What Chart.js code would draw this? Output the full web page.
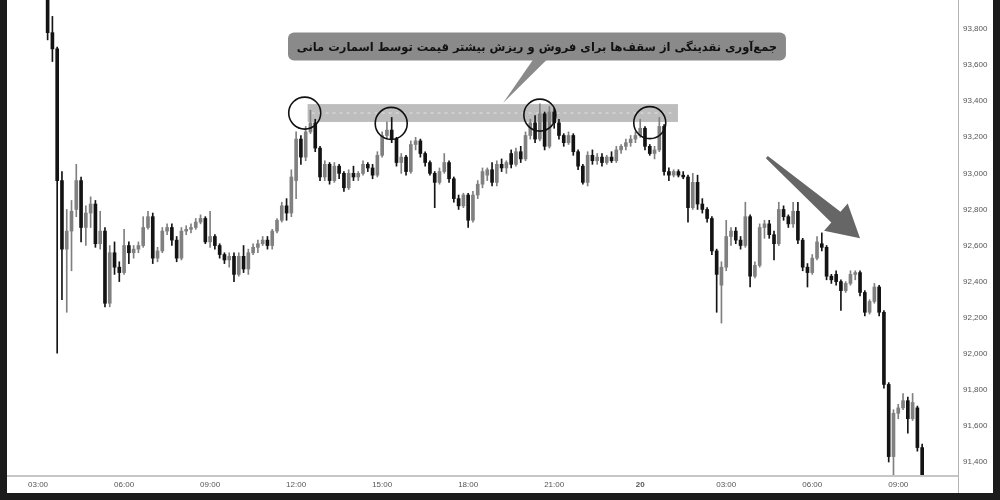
<!DOCTYPE html>
<html lang="fa">
<head>
  <meta charset="UTF-8">
  <title>Smart money liquidity</title>
  <script src="https://cdn.jsdelivr.net/npm/chart.js@4.4.1/dist/chart.umd.min.js"></script>
  <style>
    html, body { margin: 0; padding: 0; background: #1b1b1b; }
    .quadro { position: absolute; left: 7px; top: 0; width: 986px; height: 493px; background: #fff; }
  </style>
</head>
<body>
  <div class="quadro">
    <canvas id="grafico"></canvas>
  </div>

<script>
  // 10 minute candles, slot 0 = 02:00 of day 19, last slot = 11:00 of day 20
  const slotCount = 199;
  const firstCandle = 8; // first drawn candle (03:20)

  const opens = [
    94000, 93780, 93690, 92960, 92580, 92680, 92800, 92960, 92700, 92780,
    92830, 92610, 92680, 92280, 92560, 92480, 92450, 92600, 92560, 92580,
    92600, 92700, 92760, 92530, 92570, 92680, 92700, 92630, 92530, 92680,
    92690, 92700, 92730, 92750, 92620, 92650, 92600, 92550, 92520, 92540,
    92440, 92540, 92470, 92560, 92590, 92610, 92630, 92600, 92680, 92740,
    92820, 92780, 92960, 93190, 93090, 93230, 93280, 93140, 92980, 93050,
    92960, 93040, 93000, 92920, 93000, 92980, 93000, 93050, 93030, 92990,
    93100, 93210, 93240, 93190, 93060, 93090, 93010, 93160, 93180, 93110,
    93060, 93000, 92950, 93010, 93060, 92970, 92860, 92820, 92880, 92740,
    92880, 92940, 92990, 93020, 92950, 93050, 93030, 93110, 93050, 93120,
    93080, 93210, 93280, 93190, 93330, 93150, 93340, 93280, 93210, 93170,
    93210, 93120, 93040, 92950, 93100, 93070, 93090, 93060, 93090, 93070,
    93130, 93150, 93170, 93190, 93210, 93250, 93150, 93110, 93130, 93260,
    93010, 92990, 93010, 92990, 92980, 92810, 92950, 92830, 92800, 92750,
    92570, 92380, 92480, 92650, 92680, 92630, 92600, 92760, 92430, 92490,
    92700, 92720, 92660, 92610, 92800, 92760, 92720, 92790, 92630, 92480,
    92450, 92530, 92610, 92590, 92430, 92440, 92400, 92350, 92390, 92440,
    92450, 92340, 92230, 92290, 92370, 92230, 91830, 91430, 91670, 91700,
    91740, 91640, 91700, 91480
  ];
  const highs = [
    94100, 93870, 93700, 93010, 92800, 92850, 93050, 92980, 92820, 92870,
    92850, 92790, 92700, 92600, 92620, 92510, 92690, 92620, 92600, 92620,
    92760, 92790, 92780, 92590, 92700, 92720, 92720, 92650, 92700, 92710,
    92720, 92750, 92770, 92760, 92790, 92660, 92610, 92560, 92560, 92560,
    92560, 92600, 92580, 92610, 92630, 92650, 92650, 92690, 92750, 92840,
    92860, 93020, 93230, 93210, 93260, 93350, 93300, 93150, 93070, 93060,
    93060, 93050, 93010, 93020, 93040, 93010, 93070, 93060, 93050, 93120,
    93230, 93285, 93310, 93200, 93110, 93100, 93180, 93200, 93190, 93120,
    93070, 93010, 93030, 93110, 93070, 92980, 92880, 92890, 92890, 92900,
    92960, 93030, 93030, 93060, 93070, 93080, 93070, 93130, 93140, 93150,
    93230, 93300, 93320, 93385, 93340, 93370, 93360, 93300, 93220, 93230,
    93220, 93130, 93050, 93120, 93130, 93110, 93110, 93100, 93120, 93150,
    93160, 93190, 93210, 93230, 93300, 93260, 93160, 93150, 93310, 93270,
    93030, 93020, 93020, 93010, 92990, 93000, 92990, 92860, 92810, 92760,
    92580, 92510, 92740, 92700, 92700, 92650, 92840, 92770, 92510, 92720,
    92740, 92740, 92680, 92840, 92820, 92770, 92840, 92840, 92640, 92500,
    92550, 92650, 92670, 92600, 92440, 92460, 92410, 92400, 92460, 92460,
    92460, 92350, 92300, 92390, 92380, 92240, 91840, 91690, 91720, 91780,
    91760, 91780, 91710, 91500
  ];
  const lows = [
    93740, 93620, 92004, 92300, 92230, 92460, 92760, 92620, 92600, 92700,
    92590, 92580, 92260, 92260, 92440, 92400, 92440, 92500, 92530, 92560,
    92590, 92690, 92500, 92510, 92560, 92660, 92600, 92510, 92520, 92660,
    92670, 92690, 92720, 92610, 92590, 92580, 92530, 92500, 92480, 92400,
    92430, 92450, 92440, 92550, 92560, 92600, 92580, 92580, 92670, 92730,
    92740, 92760, 92860, 93050, 93070, 93220, 93120, 92960, 92960, 92940,
    92950, 92970, 92900, 92910, 92960, 92960, 92990, 93010, 92970, 92980,
    93090, 93190, 93170, 93040, 93000, 92990, 93000, 93130, 93090, 93040,
    92990, 92810, 92940, 93000, 92950, 92840, 92800, 92810, 92700, 92730,
    92860, 92920, 92960, 92930, 92930, 93010, 93000, 93030, 93040, 93060,
    93070, 93190, 93170, 93180, 93130, 93140, 93250, 93190, 93150, 93160,
    93100, 93020, 92940, 92930, 93050, 93050, 93040, 93050, 93060, 93060,
    93110, 93130, 93150, 93170, 93200, 93130, 93100, 93080, 93120, 92990,
    92960, 92980, 92980, 92970, 92730, 92800, 92800, 92780, 92730, 92550,
    92230, 92170, 92460, 92600, 92610, 92580, 92590, 92370, 92420, 92480,
    92640, 92640, 92520, 92600, 92740, 92700, 92700, 92610, 92460, 92370,
    92440, 92520, 92570, 92410, 92390, 92380, 92240, 92340, 92380, 92410,
    92320, 92210, 92220, 92280, 92210, 91810, 91400, 91320, 91640, 91690,
    91560, 91630, 91460, 91250
  ];
  const closes = [
    93780, 93690, 92960, 92580, 92680, 92790, 92960, 92700, 92780, 92830,
    92610, 92680, 92280, 92560, 92480, 92450, 92600, 92560, 92580, 92600,
    92700, 92760, 92530, 92570, 92680, 92700, 92630, 92530, 92680, 92690,
    92700, 92730, 92750, 92620, 92650, 92600, 92550, 92520, 92540, 92440,
    92540, 92470, 92560, 92590, 92610, 92630, 92600, 92680, 92740, 92820,
    92780, 92980, 93190, 93090, 93230, 93280, 93140, 92980, 93050, 92960,
    93040, 93000, 92920, 93000, 92980, 93000, 93050, 93030, 92990, 93100,
    93210, 93240, 93190, 93060, 93090, 93010, 93160, 93180, 93110, 93060,
    93000, 92950, 93010, 93060, 92970, 92860, 92820, 92880, 92740, 92880,
    92940, 93010, 93020, 92950, 93050, 93030, 93060, 93050, 93120, 93080,
    93210, 93280, 93190, 93330, 93150, 93340, 93280, 93210, 93170, 93210,
    93120, 93040, 92950, 93100, 93070, 93090, 93060, 93090, 93070, 93130,
    93150, 93170, 93190, 93210, 93250, 93150, 93110, 93130, 93260, 93010,
    92990, 93010, 92990, 92980, 92810, 92950, 92830, 92800, 92750, 92570,
    92440, 92480, 92650, 92680, 92630, 92600, 92760, 92430, 92490, 92700,
    92720, 92660, 92610, 92800, 92760, 92720, 92790, 92630, 92480, 92450,
    92530, 92620, 92590, 92430, 92410, 92400, 92350, 92390, 92440, 92450,
    92340, 92230, 92290, 92370, 92230, 91830, 91430, 91670, 91700, 91740,
    91640, 91730, 91480, 91300
  ];

  // price axis
  const yMin = 91328;
  const yMax = 93961;
  const yTicks = [91400, 91600, 91800, 92000, 92200, 92400, 92600, 92800, 93000, 93200, 93400, 93600, 93800];

  // annotations, in (slot, price)
  const caption = 'جمع\u200cآوری نقدینگی از سقف\u200cها برای فروش و ریزش بیشتر قیمت توسط اسمارت مانی';
  const band = { from: 62.4, to: 139.9, top: 93384, bottom: 93285 };
  const circles = [[61.8, 93334], [79.9, 93277], [111.0, 93323], [134.0, 93281]];
  const box = { left: 58.3, right: 162.5, top: 93781, bottom: 93625 };
  const tail = { base1: 109.6, base2: 112.5, tipX: 103.3, tipY: 93390 };
  const arrow = { fromX: 158.5, fromY: 93090, toX: 178.0, toY: 92641 };

  const upColor = '#808080';
  const downColor = '#141414';

  // time labels for every slot
  const labels = [];
  for (let i = 0; i < slotCount; i++) {
    const minutes = 120 + i * 10;
    const day = minutes >= 1440 ? 20 : 19;
    const m = minutes % 1440;
    const hh = String(Math.floor(m / 60)).padStart(2, '0');
    const mm = String(m % 60).padStart(2, '0');
    labels.push(day + ' ' + hh + ':' + mm);
  }

  function tickText(label) {
    const day = label.slice(0, 2);
    const time = label.slice(3);
    const hour = parseInt(time.slice(0, 2));
    if (time.slice(3) != '00' || hour % 3 != 0) return '';
    if (day == '20' && hour == 0) return '20';
    return time;
  }

  const wicks = [];
  const bodies = [];
  const colors = [];
  for (let k = 0; k < closes.length; k++) {
    const slot = labels[firstCandle + k];
    wicks.push({ x: slot, y: [lows[k], highs[k]] });
    bodies.push({ x: slot, y: [opens[k], closes[k]] });
    colors.push(closes[k] >= opens[k] ? upColor : downColor);
  }

  function px(chart, slot, price) {
    return [chart.scales.x.getPixelForValue(slot), chart.scales.y.getPixelForValue(price)];
  }

  const desenhos = {
    id: 'desenhos',
    beforeDatasetsDraw(chart) {
      const ctx = chart.ctx;
      const [x1, y1] = px(chart, band.from, band.top);
      const [x2, y2] = px(chart, band.to, band.bottom);
      ctx.save();
      ctx.fillStyle = '#bdbdbd';
      ctx.fillRect(x1, y1, x2 - x1, y2 - y1);
      ctx.strokeStyle = '#e2e2e2';
      ctx.lineWidth = 1;
      ctx.setLineDash([3, 4]);
      ctx.beginPath();
      ctx.moveTo(x1 + 4, (y1 + y2) / 2);
      ctx.lineTo(x2 - 4, (y1 + y2) / 2);
      ctx.stroke();
      ctx.restore();
    },
    afterDatasetsDraw(chart) {
      const ctx = chart.ctx;
      ctx.save();

      // circles on the tops
      ctx.strokeStyle = '#111';
      ctx.lineWidth = 1.6;
      circles.forEach(function (c) {
        const [cx, cy] = px(chart, c[0], c[1]);
        ctx.beginPath();
        ctx.arc(cx, cy, 16, 0, Math.PI * 2);
        ctx.stroke();
      });

      // callout box with its tail
      const [bl, bt] = px(chart, box.left, box.top);
      const [br, bb] = px(chart, box.right, box.bottom);
      const [t1] = px(chart, tail.base1, box.bottom);
      const [t2] = px(chart, tail.base2, box.bottom);
      const [tx, ty] = px(chart, tail.tipX, tail.tipY);
      ctx.fillStyle = '#8a8a8a';
      ctx.beginPath();
      ctx.roundRect(bl, bt, br - bl, bb - bt, 6);
      ctx.fill();
      ctx.beginPath();
      ctx.moveTo(t1, bb - 1);
      ctx.lineTo(t2, bb - 1);
      ctx.lineTo(tx, ty);
      ctx.closePath();
      ctx.fill();

      let size = 16;
      ctx.font = 'bold ' + size + 'px "DejaVu Sans"';
      while (ctx.measureText(caption).width > br - bl - 16 && size > 8) {
        size -= 0.5;
        ctx.font = 'bold ' + size + 'px "DejaVu Sans"';
      }
      ctx.fillStyle = '#111';
      ctx.direction = 'rtl';
      ctx.textAlign = 'center';
      ctx.textBaseline = 'middle';
      ctx.fillText(caption, (bl + br) / 2, (bt + bb) / 2 + 1);

      // big arrow pointing down
      const [ax, ay] = px(chart, arrow.fromX, arrow.fromY);
      const [bx, by] = px(chart, arrow.toX, arrow.toY);
      const len = Math.hypot(bx - ax, by - ay);
      const ux = (bx - ax) / len, uy = (by - ay) / len;
      const nx = -uy, ny = ux;
      const hx = bx - ux * 32, hy = by - uy * 32;
      ctx.fillStyle = '#666';
      ctx.beginPath();
      ctx.moveTo(ax + nx * 1.5, ay + ny * 1.5);
      ctx.lineTo(hx + nx * 7, hy + ny * 7);
      ctx.lineTo(hx + nx * 18, hy + ny * 18);
      ctx.lineTo(bx, by);
      ctx.lineTo(hx - nx * 18, hy - ny * 18);
      ctx.lineTo(hx - nx * 7, hy - ny * 7);
      ctx.lineTo(ax - nx * 1.5, ay - ny * 1.5);
      ctx.closePath();
      ctx.fill();

      ctx.restore();
    },
    afterDraw(chart) {
      // axis separator lines
      const ctx = chart.ctx;
      const area = chart.chartArea;
      ctx.save();
      ctx.strokeStyle = '#c6c6c6';
      ctx.lineWidth = 2;
      ctx.beginPath();
      ctx.moveTo(0, area.bottom + 1);
      ctx.lineTo(area.right, area.bottom + 1);
      ctx.stroke();
      ctx.strokeStyle = '#b4b4b4';
      ctx.lineWidth = 1;
      ctx.beginPath();
      ctx.moveTo(area.right + 0.5, 0);
      ctx.lineTo(area.right + 0.5, chart.height);
      ctx.stroke();
      ctx.restore();
    }
  };

  new Chart(document.getElementById('grafico'), {
    type: 'bar',
    data: {
      labels: labels,
      datasets: [
        {
          label: 'wick',
          data: wicks,
          backgroundColor: colors,
          barThickness: 1,
          grouped: false
        },
        {
          label: 'body',
          data: bodies,
          backgroundColor: colors,
          barThickness: 3,
          minBarLength: 1,
          grouped: false
        }
      ]
    },
    options: {
      responsive: true,
      maintainAspectRatio: false,
      animation: false,
      layout: { padding: 0 },
      plugins: {
        legend: { display: false },
        tooltip: { enabled: false }
      },
      scales: {
        x: {
          type: 'category',
          offset: true,
          grid: { display: false, drawTicks: false },
          border: { display: false },
          ticks: {
            autoSkip: false,
            maxRotation: 0,
            minRotation: 0,
            padding: 5,
            color: '#555',
            font: function (c) {
              const t = c.tick ? tickText(labels[c.index]) : '';
              return { family: 'Liberation Sans', size: 8, weight: t == '20' ? 'bold' : 'normal' };
            },
            callback: function (value, index) { return tickText(labels[index]); }
          },
          afterFit: function (scale) {
            scale.height = 18;
            scale.paddingLeft = 0;
            scale.paddingRight = 0;
          }
        },
        y: {
          type: 'linear',
          position: 'right',
          min: yMin,
          max: yMax,
          grid: { display: false, drawTicks: false },
          border: { display: false },
          afterBuildTicks: function (scale) {
            scale.ticks = yTicks.map(function (v) { return { value: v }; });
          },
          ticks: {
            padding: 5,
            color: '#555',
            font: { family: 'Liberation Sans', size: 8 },
            callback: function (v) { return v.toLocaleString('en-US'); }
          },
          afterFit: function (scale) {
            scale.width = 35;
            // the axis goes to the very top of the canvas
            scale.paddingTop = 0;
            scale.paddingBottom = 0;
          }
        }
      }
    },
    plugins: [desenhos]
  });
</script>
</body>
</html>
